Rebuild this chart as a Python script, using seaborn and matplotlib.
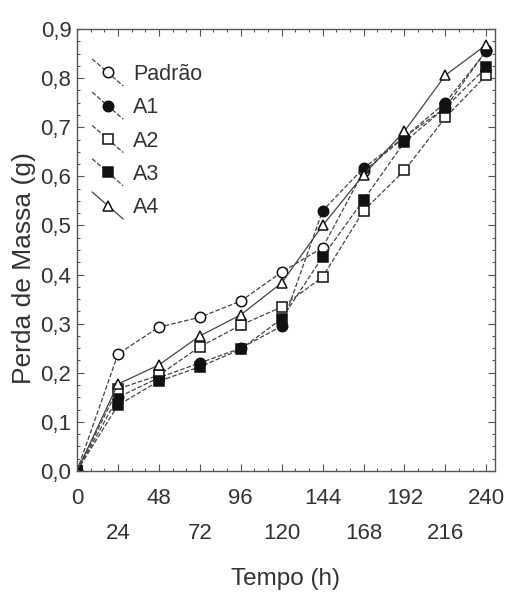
import numpy as np
import pandas as pd
import matplotlib
matplotlib.use("Agg")
import matplotlib.pyplot as plt
from matplotlib import font_manager
from matplotlib.legend_handler import HandlerLine2D
from matplotlib.ticker import MultipleLocator
import seaborn as sns

times = [0, 24, 48, 72, 96, 120, 144, 168, 192, 216, 240]
padrao = [0.0, 0.238, 0.293, 0.313, 0.346, 0.405, 0.455, 0.610, 0.680, 0.740, 0.857]
a1 = [0.0, 0.150, 0.190, 0.220, 0.250, 0.295, 0.530, 0.617, 0.680, 0.750, 0.855]
a2 = [0.0, 0.167, 0.195, 0.253, 0.297, 0.334, 0.395, 0.530, 0.612, 0.720, 0.806]
a3 = [0.0, 0.134, 0.183, 0.212, 0.248, 0.310, 0.436, 0.552, 0.670, 0.740, 0.822]
a4 = [0.0, 0.177, 0.216, 0.275, 0.318, 0.383, 0.500, 0.603, 0.692, 0.806, 0.868]
series_names = ["Padrão", "A1", "A2", "A3", "A4"]
xtick_values = [0, 24, 48, 72, 96, 120, 144, 168, 192, 216, 240]
ytick_labels = ["0,0", "0,1", "0,2", "0,3", "0,4", "0,5", "0,6", "0,7", "0,8", "0,9"]

sns.set_theme(style="white")
names = {f.name for f in font_manager.fontManager.ttflist}
fam = "Liberation Sans Narrow" if "Liberation Sans Narrow" in names else "Liberation Sans"
plt.rcParams["font.family"] = [fam, "DejaVu Sans"]

fig = plt.figure(figsize=(5.05, 5.92), dpi=100)
ax = fig.add_axes([0.1525, 0.2044, 0.8275, 0.7466])

line_c = "#444444"
styles = [
    dict(marker="o", mfc="white", ls="--"),
    dict(marker="o", mfc="#111111", ls="--"),
    dict(marker="s", mfc="white", ls="--"),
    dict(marker="s", mfc="#111111", ls="--"),
    dict(marker="^", mfc="white", ls="-"),
]
all_vals = [padrao, a1, a2, a3, a4]
for name, vals, st in zip(series_names, all_vals, styles):
    kw = dict(dashes=(3.5, 2.5)) if st["ls"] == "--" else {}
    sns.lineplot(x=times, y=vals, ax=ax, color=line_c, lw=0.9, linestyle=st["ls"],
                 marker=st["marker"], markersize=7.5, markerfacecolor=st["mfc"],
                 markeredgecolor="#111111", markeredgewidth=1.1, label=name, **kw)

ax.set_xlim(0, 245)
ax.set_ylim(0, 0.9)
ax.set_xticks(xtick_values)
ax.set_xticklabels([str(t) if i % 2 == 0 else "\n" + str(t) for i, t in enumerate(xtick_values)])
ax.set_yticks(np.arange(0, 0.91, 0.1))
ax.set_yticklabels(ytick_labels)
ax.xaxis.set_minor_locator(MultipleLocator(8))
ax.yaxis.set_minor_locator(MultipleLocator(0.025))
ax.tick_params(which="both", direction="in", top=True, right=True, bottom=True, left=True,
               color="#555555", width=0.8)
ax.tick_params(which="major", length=5, labelsize=16, labelcolor="#333333")
ax.tick_params(axis="y", which="major", pad=4)
ax.tick_params(axis="x", which="major", pad=12)
ax.tick_params(which="minor", length=2.5)
for lab in ax.get_xticklabels():
    lab.set_linespacing(1.9)
for s in ax.spines.values():
    s.set_color("#555555")
    s.set_linewidth(1.0)

ax.set_xlabel("Tempo (h)", fontsize=17.5, color="#333333", labelpad=17)
ax.set_ylabel("Perda de Massa (g)", fontsize=19, color="#333333")
ax.yaxis.set_label_coords(-0.098, 0.46)


class DiagHandler(HandlerLine2D):
    def create_artists(self, legend, orig_handle, xdescent, ydescent, width, height, fontsize, trans):
        arts = super().create_artists(legend, orig_handle, xdescent, ydescent, width, height, fontsize, trans)
        for a in arts:
            x = a.get_xdata()
            if len(x) > 1:
                a.set_ydata(np.linspace(height * 1.4 - ydescent, -height * 0.4 - ydescent, len(x)))
        return arts


handles, labels = ax.get_legend_handles_labels()
leg = ax.legend(handles, labels, loc="upper left", bbox_to_anchor=(0.0, 0.955), frameon=False,
                fontsize=15.5, numpoints=1, handlelength=1.45, handletextpad=0.45, labelspacing=0.57,
                borderaxespad=0.3, handler_map={h: DiagHandler() for h in handles})
for t in leg.get_texts():
    t.set_color("#333333")

fig.savefig("out.png", dpi=100)
